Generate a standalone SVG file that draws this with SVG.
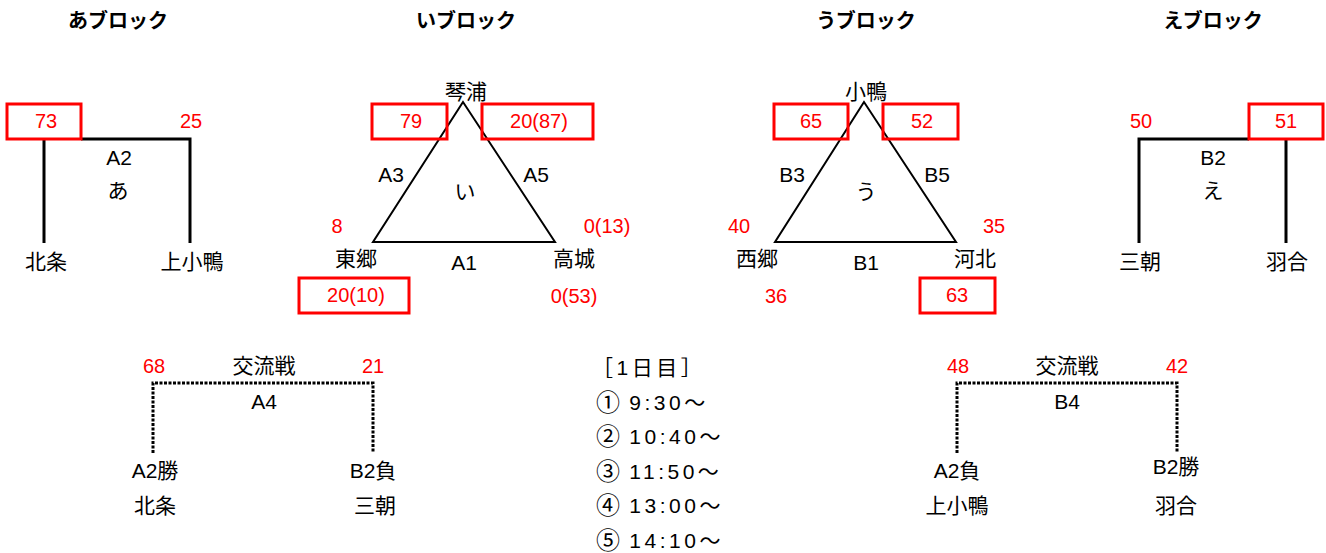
<svg xmlns="http://www.w3.org/2000/svg" width="1326" height="553" viewBox="0 0 1326 553">
<style>
text{font-family:"Liberation Sans","Noto Sans CJK JP",sans-serif;font-size:21px;fill:#000;text-anchor:middle;dominant-baseline:central}
.t{font-weight:bold;font-size:20px}
.r{fill:#ff0000;font-size:20px}
.box{fill:none;stroke:#ff0000;stroke-width:3}
.br{fill:none;stroke:#000;stroke-width:3}
.tri{fill:none;stroke:#000;stroke-width:2}
.dot{fill:none;stroke:#000;stroke-width:3;stroke-dasharray:3 1.5}
.s{text-anchor:start;letter-spacing:3.5px}
.c{font-size:24px;letter-spacing:0}
</style>
<rect width="1326" height="553" fill="#fff"/>
<g id="connectors">
<path class="br" d="M44,139 V243 M81,139 H190 V243"/>
<path class="br" d="M1139,243 V139 H1249 M1286,139 V243"/>
<path class="tri" d="M463,102 L373,242 H555 Z"/>
<path class="tri" d="M864,102 L775,242 H956 Z"/>
<path class="dot" d="M153,453 V383 H373 V453"/>
<path class="dot" d="M957,453 V383 H1177 V453"/>
</g>
<g id="block-a">
<text class="t" x="118" y="21">あブロック</text>
<rect class="box" x="7" y="104" width="74" height="35"/>
<text class="r" x="46" y="121">73</text>
<text class="r" x="191" y="121">25</text>
<text x="119" y="157">A2</text>
<text x="118" y="190">あ</text>
<text x="46" y="261">北条</text>
<text x="192" y="261">上小鴨</text>
</g>
<g id="block-i">
<text class="t" x="466" y="21">いブロック</text>
<text x="466" y="91">琴浦</text>
<rect class="box" x="372" y="104" width="75" height="35"/>
<text class="r" x="411" y="121">79</text>
<rect class="box" x="482" y="104" width="111" height="35"/>
<text class="r" x="539" y="121">20(87)</text>
<text x="391" y="174">A3</text>
<text x="536" y="174">A5</text>
<text x="465" y="191">い</text>
<text class="r" x="337" y="226">8</text>
<text class="r" x="607" y="226">0(13)</text>
<text x="356" y="258">東郷</text>
<text x="464" y="262">A1</text>
<text x="574" y="258">高城</text>
<rect class="box" x="299" y="278" width="110" height="35"/>
<text class="r" x="356" y="295">20(10)</text>
<text class="r" x="574" y="296">0(53)</text>
</g>
<g id="block-u">
<text class="t" x="866" y="21">うブロック</text>
<text x="866" y="91">小鴨</text>
<rect class="box" x="774" y="104" width="74" height="35"/>
<text class="r" x="811" y="121">65</text>
<rect class="box" x="883" y="104" width="75" height="35"/>
<text class="r" x="922" y="121">52</text>
<text x="792" y="174">B3</text>
<text x="937" y="174">B5</text>
<text x="866" y="191">う</text>
<text class="r" x="739" y="226">40</text>
<text class="r" x="994" y="226">35</text>
<text x="757" y="258">西郷</text>
<text x="866" y="262">B1</text>
<text x="975" y="258">河北</text>
<text class="r" x="776" y="296">36</text>
<rect class="box" x="920" y="278" width="75" height="35"/>
<text class="r" x="957" y="295">63</text>
</g>
<g id="block-e">
<text class="t" x="1213" y="21">えブロック</text>
<rect class="box" x="1249" y="104" width="74" height="35"/>
<text class="r" x="1141" y="121">50</text>
<text class="r" x="1286" y="121">51</text>
<text x="1213" y="157">B2</text>
<text x="1213" y="190">え</text>
<text x="1140" y="261">三朝</text>
<text x="1287" y="261">羽合</text>
</g>
<g id="match-a4">
<text class="r" x="154" y="366">68</text>
<text x="264" y="365">交流戦</text>
<text class="r" x="373" y="366">21</text>
<text x="264" y="401">A4</text>
<text x="155" y="470">A2勝</text>
<text x="373" y="470">B2負</text>
<text x="155" y="505">北条</text>
<text x="375" y="505">三朝</text>
</g>
<g id="match-b4">
<text class="r" x="958" y="366">48</text>
<text x="1067" y="365">交流戦</text>
<text class="r" x="1177" y="366">42</text>
<text x="1067" y="401">B4</text>
<text x="957" y="470">A2負</text>
<text x="1176" y="466">B2勝</text>
<text x="957" y="505">上小鴨</text>
<text x="1176" y="505">羽合</text>
</g>
<g id="schedule">
<text class="s" x="592" y="367">［1日目］</text>
<text class="s" x="596" y="402"><tspan class="c">①</tspan> 9:30～</text>
<text class="s" x="596" y="436"><tspan class="c">②</tspan> 10:40～</text>
<text class="s" x="596" y="471"><tspan class="c">③</tspan> 11:50～</text>
<text class="s" x="596" y="505"><tspan class="c">④</tspan> 13:00～</text>
<text class="s" x="596" y="540"><tspan class="c">⑤</tspan> 14:10～</text>
</g>
</svg>
